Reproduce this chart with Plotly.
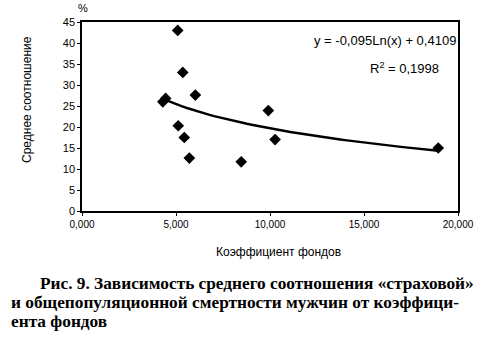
import numpy as np
import plotly.graph_objects as go

# data
x_vals = [4.30, 4.45, 5.09, 5.36, 6.03, 5.12, 5.44, 5.71, 8.47, 9.91, 10.27, 18.95]
y_vals = [26.0, 26.8, 43.0, 33.0, 27.6, 20.3, 17.5, 12.6, 11.7, 23.9, 17.0, 15.0]
# logarithmic trend line as drawn in the picture (y = a*ln(x) + b, in %)
trend_a = -8.32
trend_b = 38.83
x_ticks = [0, 5, 10, 15, 20]
x_ticktext = ["0,000", "5,000", "10,000", "15,000", "20,000"]
y_ticks = [0, 5, 10, 15, 20, 25, 30, 35, 40, 45]
eq_text = "y = -0,095Ln(x) + 0,4109"
r2_text = "R<sup>2</sup> = 0,1998"
caption = ["Рис. 9. Зависимость среднего соотношения «страховой»",
           "и общепопуляционной смертности мужчин от коэффици-",
           "ента фондов"]

xt = np.linspace(min(x_vals), max(x_vals), 60)
yt = trend_a * np.log(xt) + trend_b

fig = go.Figure()
fig.add_trace(go.Scatter(x=xt, y=yt, mode="lines",
                         line=dict(color="black", width=2.4), hoverinfo="skip"))
fig.add_trace(go.Scatter(x=x_vals, y=y_vals, mode="markers",
                         marker=dict(symbol="diamond", size=9, color="black")))

L, R, T, B = 82, 21, 22, 135
W, H = 479, 346
axfont = dict(family="Liberation Sans, Arial", size=10, color="black")
fig.update_layout(
    width=W, height=H,
    margin=dict(l=L, r=R, t=T, b=B),
    paper_bgcolor="white", plot_bgcolor="white",
    showlegend=False,
    xaxis=dict(range=[0, 20], tickvals=x_ticks, ticktext=x_ticktext, automargin=False,
               showgrid=False, zeroline=False, showline=True, linecolor="black",
               linewidth=1.5, mirror=True, ticks="outside", ticklen=3,
               tickcolor="black", tickfont=axfont),
    yaxis=dict(range=[0, 45], tickvals=y_ticks, showgrid=False, zeroline=False, automargin=False,
               showline=True, linecolor="black", linewidth=1.5, mirror=True,
               ticks="outside", ticklen=3, tickcolor="black",
               tickfont=dict(family="Liberation Sans, Arial", size=11, color="black")),
)

def px(x, y):
    return (x - L) / (W - L - R), 1 - (y - T) / (H - T - B)

annots = [
    dict(x=385, y=40, text=eq_text, font=dict(family="Liberation Sans, Arial", size=13)),
    dict(x=404, y=68, text=r2_text, font=dict(family="Liberation Sans, Arial", size=13)),
    dict(x=83, y=8, text="%", font=dict(family="Liberation Sans, Arial", size=11)),
    dict(x=278, y=252, text="Коэффициент фондов", font=dict(family="Liberation Sans, Arial", size=12)),
    dict(x=27, y=100, text="Среднее соотношение", textangle=-90,
         font=dict(family="Liberation Sans, Arial", size=12)),
]
for a in annots:
    ax_, ay_ = px(a["x"], a["y"])
    fig.add_annotation(xref="paper", yref="paper", x=ax_, y=ay_,
                       text=a["text"], showarrow=False, xanchor="center", yanchor="middle",
                       textangle=a.get("textangle", 0),
                       font=dict(color="black", **a["font"]))

cap_pos = [(38, 283), (9, 302), (9, 321)]
for (cx, cy), line in zip(cap_pos, caption):
    ax_, ay_ = px(cx, cy)
    fig.add_annotation(xref="paper", yref="paper", x=ax_, y=ay_,
                       text="<b>" + line + "</b>", showarrow=False,
                       xanchor="left", yanchor="middle",
                       font=dict(family="Liberation Serif, Times New Roman", size=17.3, color="black"))

fig.write_html("out.html")
